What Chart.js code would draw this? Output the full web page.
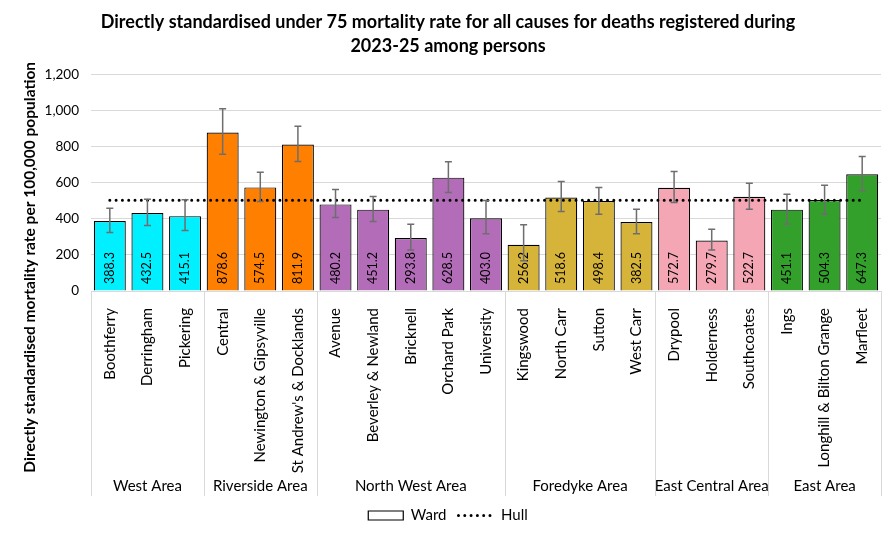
<!DOCTYPE html>
<html>
<head>
<meta charset="utf-8">
<script src="https://cdn.jsdelivr.net/npm/chart.js@4"></script>
<style>
    html, body { margin: 0; padding: 0; background: #fff; }
    #wrap { width: 896px; height: 537px; }
</style>
</head>
<body>
<div id="wrap"><canvas id="chart"></canvas></div>
<script>
    const wards = [
        "Boothferry", "Derringham", "Pickering",
        "Central", "Newington & Gipsyville", "St Andrew's & Docklands",
        "Avenue", "Beverley & Newland", "Bricknell", "Orchard Park", "University",
        "Kingswood", "North Carr", "Sutton", "West Carr",
        "Drypool", "Holderness", "Southcoates",
        "Ings", "Longhill & Bilton Grange", "Marfleet"
    ];
    const areas = ["West Area", "Riverside Area", "North West Area", "Foredyke Area", "East Central Area", "East Area"];
    const areaSizes = [3, 3, 5, 4, 3, 3];
    const areaColors = ["#00F0FF", "#FF8000", "#B36CB8", "#D6B43A", "#F4A6B4", "#33A02C"];

    const rates = [388.3, 432.5, 415.1, 878.6, 574.5, 811.9, 480.2, 451.2, 293.8, 628.5, 403.0,
        256.2, 518.6, 498.4, 382.5, 572.7, 279.7, 522.7, 451.1, 504.3, 647.3];
    const lowerCI = [324, 363, 335, 759, 496, 718, 407, 385, 228, 546, 317,
        168, 441, 426, 317, 491, 228, 454, 370, 426, 556];
    const upperCI = [459, 509, 506, 1011, 659, 913, 563, 524, 370, 717, 502,
        367, 607, 574, 454, 663, 343, 598, 537, 587, 746];
    const hull = [503, 503, 503, 503, 503, 503, 503, 503, 503, 503, 503,
        503, 503, 503, 503, 503, 503, 503, 503, 503, 503];

    const yTitle = "Directly standardised mortality rate per 100,000 population";

    const FONT = "Lato, 'Open Sans', sans-serif";
    const GRID = "#D9D9D9";

    const barColors = [];
    areaSizes.forEach((n, i) => { for (let k = 0; k < n; k++) barColors.push(areaColors[i]); });

    // error bars + value labels inside bars
    const barExtras = {
        id: "barExtras",
        afterDatasetsDraw(chart) {
            const ctx = chart.ctx;
            const y = chart.scales.y;
            const meta = chart.getDatasetMeta(1);
            ctx.save();
            meta.data.forEach((bar, i) => {
                const base = y.getPixelForValue(0);
                ctx.save();
                ctx.translate(bar.x, base - 7);
                ctx.rotate(-Math.PI / 2);
                ctx.fillStyle = "#000";
                ctx.font = "12.5px " + FONT;
                ctx.textAlign = "left";
                ctx.textBaseline = "middle";
                ctx.fillText(rates[i].toFixed(1), 0, 0);
                ctx.restore();

                const top = y.getPixelForValue(upperCI[i]);
                const bot = y.getPixelForValue(lowerCI[i]);
                ctx.strokeStyle = "#6E6E6E";
                ctx.lineWidth = 1.5;
                ctx.beginPath();
                ctx.moveTo(bar.x, top); ctx.lineTo(bar.x, bot);
                ctx.moveTo(bar.x - 3.5, top); ctx.lineTo(bar.x + 3.5, top);
                ctx.moveTo(bar.x - 3.5, bot); ctx.lineTo(bar.x + 3.5, bot);
                ctx.stroke();
            });
            ctx.restore();
        }
    };

    // area separators and names under the ward labels, plus the y title
    const areaAxis = {
        id: "areaAxis",
        afterDraw(chart) {
            const ctx = chart.ctx;
            const x = chart.scales.x;
            const step = x.width / wards.length;
            const top = x.top;
            const bottom = x.bottom;
            ctx.save();
            ctx.strokeStyle = GRID;
            ctx.lineWidth = 1;
            let start = 0;
            const edges = [0];
            areaSizes.forEach(n => { start += n; edges.push(start); });
            edges.forEach(e => {
                const px = Math.round(x.getPixelForValue(e) - step / 2) + 0.5;
                ctx.beginPath();
                ctx.moveTo(px, top); ctx.lineTo(px, bottom);
                ctx.stroke();
            });
            ctx.fillStyle = "#000";
            ctx.font = "15px " + FONT;
            ctx.textAlign = "center";
            ctx.textBaseline = "middle";
            areas.forEach((a, i) => {
                const l = x.getPixelForValue(edges[i]) - step / 2;
                const r = x.getPixelForValue(edges[i + 1]) - step / 2;
                ctx.fillText(a, (l + r) / 2, bottom - 10);
            });

            ctx.translate(30, (chart.chartArea.top + bottom) / 2 - 18);
            ctx.rotate(-Math.PI / 2);
            ctx.font = "bold 15.5px " + FONT;
            ctx.fillText(yTitle, 0, 0);
            ctx.restore();
        }
    };

    new Chart(document.getElementById("chart"), {
        data: {
            labels: wards,
            datasets: [
                {
                    type: "line",
                    label: "Hull",
                    data: hull,
                    borderColor: "#000",
                    borderWidth: 3,
                    borderDash: [0, 6.3],
                    borderCapStyle: "round",
                    pointRadius: 0,
                    fill: false,
                    order: 1
                },
                {
                    type: "bar",
                    label: "Ward",
                    data: rates,
                    backgroundColor: barColors,
                    borderColor: "#000",
                    borderWidth: 1.2,
                    barPercentage: 0.85,
                    categoryPercentage: 1,
                    order: 2
                }
            ]
        },
        options: {
            responsive: true,
            maintainAspectRatio: false,
            animation: false,
            layout: { padding: { left: 15, right: 15, top: 4, bottom: 4 } },
            plugins: {
                title: {
                    display: true,
                    text: ["Directly standardised under 75 mortality rate for all causes for deaths registered during",
                        "2023-25 among persons"],
                    color: "#000",
                    font: { family: FONT, size: 18, weight: "bold", lineHeight: 1.35 },
                    padding: { top: 6, bottom: 16 }
                },
                legend: {
                    position: "bottom",
                    labels: {
                        color: "#000",
                        font: { family: FONT, size: 15 },
                        usePointStyle: true,
                        pointStyleWidth: 35,
                        boxHeight: 9,
                        padding: 12,
                        generateLabels: () => [
                            { text: "Ward", fillStyle: "#fff", strokeStyle: "#000", lineWidth: 1.2, pointStyle: "rect", datasetIndex: 1 },
                            { text: "Hull", fillStyle: "#000", strokeStyle: "#000", lineWidth: 3, lineDash: [0, 6.3], lineCap: "round", pointStyle: "line", datasetIndex: 0 }
                        ]
                    }
                },
                tooltip: { enabled: false }
            },
            scales: {
                x: {
                    offset: true,
                    grid: { display: false },
                    border: { display: false },
                    ticks: {
                        color: "#000",
                        font: { family: FONT, size: 15 },
                        maxRotation: 90,
                        minRotation: 90,
                        autoSkip: false,
                        padding: 9
                    },
                    afterFit: scale => { scale.height = 205; }
                },
                y: {
                    min: 0,
                    max: 1200,
                    ticks: {
                        stepSize: 200,
                        color: "#000",
                        font: { family: FONT, size: 13.5 },
                        padding: 12,
                        callback: v => v.toLocaleString("en-GB")
                    },
                    grid: { color: GRID, drawTicks: false },
                    border: { display: false },
                    afterFit: scale => { scale.width = 76; }
                }
            }
        },
        plugins: [barExtras, areaAxis]
    });
</script>
</body>
</html>
